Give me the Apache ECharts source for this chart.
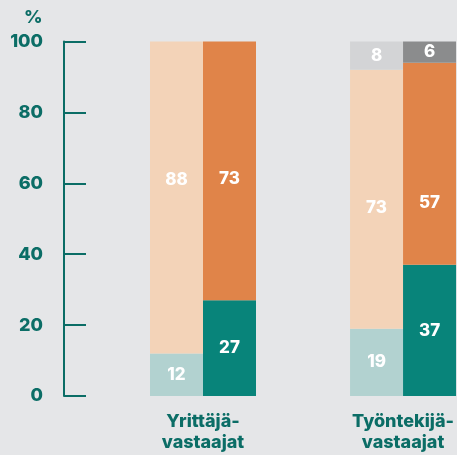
<!DOCTYPE html>
<html><head><meta charset="utf-8">
<script src="https://cdn.jsdelivr.net/npm/echarts@6/dist/echarts.min.js"></script>
<style>html,body{margin:0;padding:0;background:#e5e6e8;}#c{width:457px;height:455px;}</style>
</head><body><div id="c"></div>
<script>
var categories = ['Yrittäjä-\nvastaajat', 'Työntekijä-\nvastaajat'];
var lightTeal = [12, 19];
var peach = [88, 73];
var lightGray = [null, 8];
var teal = [27, 37];
var orange = [73, 57];
var darkGray = [null, 6];
var yTicks = [0, 20, 40, 60, 80, 100];

var axisColor = '#0b6d66';
var font = 'Inter';
var weight = 800;
// label vertical offsets (style only)
var peachOffsets = [-18, 9];
var orangeOffsets = [8, 39];

function mk(name, stack, values, color, offsets) {
  return {
    name: name, type: 'bar', stack: stack, barWidth: 53, barGap: '0%',
    itemStyle: { color: color },
    label: { show: true, position: 'inside', color: '#ffffff', fontFamily: font, fontWeight: weight, fontSize: 17 },
    data: values.map(function (v, i) {
      if (v === null) return '-';
      var d = { value: v };
      if (offsets) d.label = { offset: [0, offsets[i]] };
      return d;
    })
  };
}

var chart = echarts.init(document.getElementById('c'));
chart.setOption({
  backgroundColor: '#e5e6e8',
  animation: false,
  title: { text: '%', left: 19, top: 4, textStyle: { color: axisColor, fontFamily: font, fontWeight: weight, fontSize: 18 } },
  grid: { left: 203, right: 53, top: 41.5, bottom: 59 },
  xAxis: {
    type: 'category', data: categories, boundaryGap: false,
    axisLine: { show: false }, axisTick: { show: false },
    axisLabel: { color: axisColor, fontFamily: font, fontWeight: weight, fontSize: 18, lineHeight: 21, margin: 15 }
  },
  yAxis: {
    type: 'value', min: yTicks[0], max: yTicks[yTicks.length - 1], interval: 20, offset: 139,
    axisLine: { show: true, lineStyle: { color: axisColor, width: 2 } },
    axisTick: { show: true, inside: true, length: 22, lineStyle: { color: axisColor, width: 2 } },
    splitLine: { show: false },
    axisLabel: { color: axisColor, fontFamily: font, fontWeight: weight, fontSize: 18, margin: 21 }
  },
  series: [
    mk('a1', 'a', lightTeal, '#b2d2d0'),
    mk('a2', 'a', peach, '#f3d3b8', peachOffsets),
    mk('a3', 'a', lightGray, '#d3d4d6'),
    mk('b1', 'b', teal, '#08847a'),
    mk('b2', 'b', orange, '#e08449', orangeOffsets),
    mk('b3', 'b', darkGray, '#8b8c8d')
  ]
});
</script></body></html>
